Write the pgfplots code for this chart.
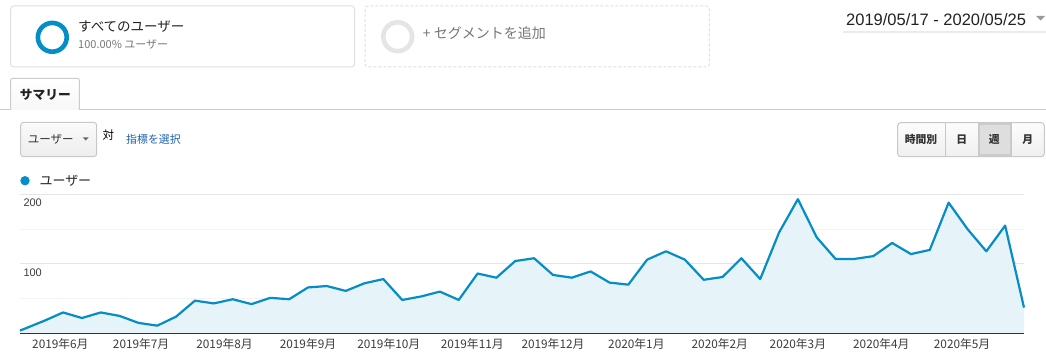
\documentclass[border=0pt]{standalone}
\usepackage{fontspec}
\setmainfont{Noto Sans CJK JP}
\newfontfamily\lat{Liberation Sans}
\usepackage{pgfplots}
\usepackage{pgfplotstable}
\pgfplotsset{compat=1.18}
\definecolor{gablue}{HTML}{058DC7}
\definecolor{gafill}{HTML}{E6F3F9}
\definecolor{segborder}{HTML}{E0E0E0}
\definecolor{textdark}{HTML}{222222}
\definecolor{textgray}{HTML}{777777}
\definecolor{labgray}{HTML}{3C3C3C}
\definecolor{gridA}{HTML}{E6E6E6}
\definecolor{gridB}{HTML}{F3F3F3}
\definecolor{linkblue}{HTML}{1F62AE}
\definecolor{btnborder}{HTML}{C8C8C8}
\newcommand{\fs}[1]{\fontsize{#1}{#1}\selectfont}

\pgfplotstableread{
d v
0 4
2 7
9 18
16 30
23 22
30 30
37 25
44 15
51 11
58 24
65 47
72 43
79 49
86 42
93 51
100 49
107 66
114 68
121 61
128 72
135 78
142 48
149 53
156 60
163 48
170 86
177 80
184 104
191 108
198 84
205 80
212 89
219 73
226 70
233 106
240 118
247 106
254 77
261 81
268 108
275 78
282 145
289 193
296 138
303 107
310 107
317 111
324 130
331 114
338 120
345 188
352 150
359 118
366 155
373 37
}\users

\begin{document}
\begin{tikzpicture}[x=1pt,y=1pt]
\path[use as bounding box, fill=white] (0,0) rectangle (1046,354);

% segment box 1
\draw[segborder, line width=1pt, rounded corners=3pt] (10.7,348) rectangle (354.5,287);
\draw[gablue, line width=4.6pt] (52.3,316.7) circle[radius=14.4];
\node[anchor=west, inner sep=0pt, text=textdark, font=\fs{13.5}] at (78,327.3) {すべてのユーザー};
\node[anchor=west, inner sep=0pt, text=textgray, font=\fs{11}] at (78,309.7) {100.00\% ユーザー};

% segment box 2
\draw[segborder, line width=1pt, rounded corners=3pt, dash pattern=on 3pt off 2pt] (365,348) rectangle (709.3,287);
\draw[black!10, line width=4.6pt] (397.7,317.3) circle[radius=14.4];
\node[anchor=west, inner sep=0pt, text=textgray, font=\fs{14}] at (422.7,320.7) {+ セグメントを追加};

% date range
\node[anchor=west, inner sep=0pt, text=textdark, font=\lat\fs{16.5}] at (846,334.7) {2019/05/17 - 2020/05/25};
\fill[black!40] (1036,338) -- (1045,338) -- (1040.5,333.5) -- cycle;
\draw[black!8, line width=2pt] (843,322.3) -- (1046,322.3);

% tab line and tab
\draw[black!20, line width=1pt] (0,244) -- (1046,244);
\draw[black!20, line width=1pt, top color=white, bottom color=black!3, rounded corners=2pt] (10.7,244) -- (10.7,275.7) -- (79.3,275.7) -- (79.3,244);
\node[inner sep=0pt, text=textdark, font=\bfseries\fs{12.7}] at (45.3,259) {サマリー};

% metric dropdown
\draw[btnborder, line width=1pt, rounded corners=3pt, top color=black!2, bottom color=black!7] (20.7,231.7) rectangle (96.7,197.3);
\node[anchor=west, inner sep=0pt, text=black!80, font=\fs{11.5}] at (27.7,214.7) {ユーザー};
\fill[black!60] (82.7,216.7) -- (88.7,216.7) -- (85.7,213.5) -- cycle;
\node[anchor=west, inner sep=0pt, text=black, font=\fs{11.5}] at (102.3,219.3) {対};
\node[anchor=west, inner sep=0pt, text=linkblue, font=\fs{10.9}] at (126,215) {指標を選択};

% time buttons
\draw[btnborder, line width=1pt, rounded corners=3pt, top color=black!1, bottom color=black!6] (897.7,231.3) rectangle (1044.3,197.3);
\fill[black!13] (978.3,230.8) rectangle (1011.7,197.8);
\draw[black!20, line width=1.5pt] (979.3,229.8) rectangle (1010.7,198.8);
\draw[btnborder, line width=1pt] (945.7,231.3) -- (945.7,197.3);
\draw[btnborder, line width=1pt] (978.3,231.3) -- (978.3,197.3);
\draw[btnborder, line width=1pt] (1011.7,231.3) -- (1011.7,197.3);
\node[inner sep=0pt, text=black!80, font=\bfseries\fs{10.8}] at (921,214.7) {時間別};
\node[inner sep=0pt, text=black!80, font=\bfseries\fs{10.8}] at (961.7,214.7) {日};
\node[inner sep=0pt, text=black!80, font=\bfseries\fs{10.8}] at (994.3,214.7) {週};
\node[inner sep=0pt, text=black!80, font=\bfseries\fs{10.8}] at (1027.7,214.7) {月};

% legend
\fill[gablue] (25,173.3) circle[radius=4.7];
\node[anchor=west, inner sep=0pt, text=textdark, font=\fs{13}] at (39.3,173.3) {ユーザー};

\begin{axis}[
  at={(20pt,20.7pt)}, anchor=south west,
  scale only axis, width=1004pt, height=139pt,
  xmin=0, xmax=373, ymin=0, ymax=200,
  axis line style={draw=none},
  major tick length=0pt, minor tick length=0pt,
  xtick={15,45,76,107,137,168,198,229,260,289,320,350},
  xticklabels={2019年6月,2019年7月,2019年8月,2019年9月,2019年10月,2019年11月,2019年12月,2020年1月,2020年2月,2020年3月,2020年4月,2020年5月},
  xticklabel style={font=\fs{11.8}, text=labgray, anchor=base, inner sep=0pt, yshift=-14.7pt},
  ytick={100,200}, yticklabels={100,200},
  minor ytick={50,150},
  yticklabel style={font=\lat\fs{11}, text=labgray, anchor=base west, inner sep=0pt, xshift=3.3pt, yshift=-12.5pt},
  ymajorgrids, yminorgrids,
  major grid style={draw=gridA, line width=1pt},
  minor grid style={draw=gridB, line width=1pt},
  clip=false,
]
\addplot[draw=none, fill=gafill] table[x=d, y=v] {\users} \closedcycle;
\addplot[gablue, line width=2.2pt, line join=round] table[x=d, y=v] {\users};
\draw[black!80, line width=1.3pt] (axis cs:0,0) -- (axis cs:373,0);
\end{axis}
\end{tikzpicture}
\end{document}
